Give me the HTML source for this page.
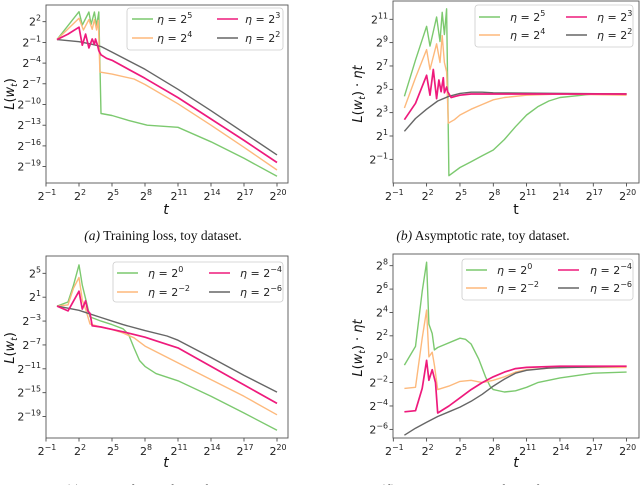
<!DOCTYPE html>
<html><head><meta charset="utf-8"><style>
html,body{margin:0;padding:0;background:#fff;}
svg{display:block;font-family:"DejaVu Sans","Liberation Sans",sans-serif;}
.cap{font-family:"Liberation Serif",serif;font-size:13.5px;fill:#111;}
</style></head><body>
<svg id="fig" width="640" height="485" viewBox="0 0 640 485"></svg>
<script>
// Series data: x = log2(t), y = log2(value)
const aGreenX=[0,2,2.3,2.9,3.1,3.4,3.6,3.8,4,5,6.5,8.2,11,14,17,20];
const aGreenY=[-0.6,3.45,1.5,3.4,1.6,3.4,1.4,3.4,-11.3,-11.6,-12.3,-13,-13.3,-15.4,-17.8,-20.4];
const aOrangeX=[0,2,2.4,2.9,3.2,3.4,3.6,3.75,3.9,5,7,8,11,14,17,20];
const aOrangeY=[-0.6,2.5,0.8,2.3,0.9,2.3,0.8,2.2,-5.3,-5.6,-6.3,-7.1,-9.9,-13,-16.2,-19.5];
const aPinkX=[0,1,2,2.3,2.6,2.9,3.2,3.4,3.5,3.7,3.8,4,4.5,5,8,11,14,17,20];
const aPinkY=[-0.6,0.2,1.2,-1.4,0.2,-1.8,-0.5,-1.3,-0.5,-1.5,-2.2,-2.8,-3.3,-3.6,-6.2,-9.0,-12.1,-15.2,-18.4];
const aGrayX=[0,2,3,4,5,8,11,14,17,20];
const aGrayY=[-0.6,-0.9,-1.2,-1.6,-2.4,-4.9,-7.8,-10.9,-14.1,-17.3];

const bGreenX=[0,1,2,2.3,2.9,3.2,3.4,3.6,3.8,4,5,6,7,8,9,10,11,12,13,14,16,17,20];
const bGreenY=[4.4,7.5,10.4,8.7,11.2,9.1,11.6,9.7,11.9,-2.4,-1.7,-1.2,-0.7,-0.2,0.7,1.8,2.8,3.5,4.0,4.3,4.5,4.6,4.6];
const bOrangeX=[0,1,2,2.3,2.9,3.2,3.4,3.6,3.8,3.95,4.5,5,6,7,8,9,11,14,20];
const bOrangeY=[3.4,6,8.4,6.7,8.9,7.3,9.6,7.3,6.5,2.1,2.4,2.8,3.3,3.7,4.1,4.3,4.5,4.6,4.5];
const bPinkX=[0,1,2,2.3,2.6,2.9,3.1,3.3,3.5,3.6,3.8,3.9,4.2,4.6,5,6,20];
const bPinkY=[2.4,3.8,6.2,4.5,6.7,4.2,5.8,4.8,6.0,4.7,5.2,4.8,4.3,4.4,4.5,4.6,4.6];
const bGrayX=[0,1,2,3,4,5,6,7,8,20];
const bGrayY=[1.4,2.5,3.3,4.0,4.4,4.65,4.75,4.75,4.7,4.6];

const cGreenX=[0,1,1.5,2,2.3,2.7,3,4,5,6,6.5,7,7.5,8,9,11,14,17,20];
const cGreenY=[-0.5,0.2,3,6.4,3,0,-2.3,-3,-3.6,-4.3,-5.2,-7.5,-9.6,-10.6,-11.8,-13,-15.6,-18.4,-21.3];
const cOrangeX=[0,1,1.5,2,2.3,2.6,3,4,5,6,7,8,11,14,17,20];
const cOrangeY=[-0.5,-0.3,2.5,4.3,0.5,-1,-3.5,-4,-4.4,-5,-5.8,-7.2,-10,-12.8,-15.6,-18.7];
const cPinkX=[0,1,2,2.3,2.6,2.8,3,3.2,4,5,6,8,9,11,14,17,20];
const cPinkY=[-0.5,-1.3,2.0,-1,0.4,-1.3,-1.7,-3.8,-4,-4.4,-4.8,-5.7,-6.3,-7.5,-10.6,-13.7,-16.8];
const cGrayX=[0,2,3,4,5,6,8,10,11,14,17,20];
const cGrayY=[-0.5,-1.2,-1.8,-2.4,-3,-3.6,-4.6,-5.5,-6.2,-9.1,-12.1,-14.9];

const dGreenX=[0,1,1.6,2,2.2,2.5,2.7,3,5,5.5,6,6.7,7.3,7.7,8,9,10,11,12,14,17,20];
const dGreenY=[-0.5,1.1,5.8,8.3,3,2.2,0.8,1.0,1.8,1.7,1.3,0,-1.5,-2.3,-2.6,-2.8,-2.7,-2.4,-2.0,-1.6,-1.2,-1.1];
const dOrangeX=[0,1,1.6,2,2.2,2.5,2.7,3,4,5,6,7,8,9,10,11,14,20];
const dOrangeY=[-2.5,-2.4,1.8,4.2,0.2,0.6,-0.5,-2.6,-2.3,-1.9,-1.8,-2,-1.8,-1.5,-1.1,-0.9,-0.7,-0.7];
const dPinkX=[0,1,1.6,2,2.2,2.5,2.8,3,4,5,6,7,8,9,10,11,14,20];
const dPinkY=[-4.5,-4.4,-2.5,-0.1,-1.8,-0.9,-2,-4.6,-4,-3.3,-2.6,-2,-1.5,-1.1,-0.8,-0.7,-0.6,-0.6];
const dGrayX=[0,1,2,3,4,5,6,7,8,9,10,11,13,15,20];
const dGrayY=[-6.5,-5.9,-5.4,-4.9,-4.5,-4.1,-3.6,-3,-2.3,-1.7,-1.2,-0.95,-0.75,-0.7,-0.6];

const xTicks=[-1,2,5,8,11,14,17,20];
const aYTicks=[2,-1,-4,-7,-10,-13,-16,-19];
const bYTicks=[11,9,7,5,3,1,-1];
const cYTicks=[5,1,-3,-7,-11,-15,-19];
const dYTicks=[8,6,4,2,0,-2,-4,-6];
const topLegend=["5","4","3","2"];
const botLegend=["0","−2","−4","−6"];

const C={green:'#7cc96f',orange:'#fdb97c',pink:'#ee1a7c',gray:'#666666'};
const NS='http://www.w3.org/2000/svg';
const fig=document.getElementById('fig');
function mk(tag,attrs,parent){const e=document.createElementNS(NS,tag);for(const k in attrs)e.setAttribute(k,attrs[k]);(parent||fig).appendChild(e);return e;}
function pow(parent,x,y,exp,anchor,size){
  const t=mk('text',{x:x,y:y,'text-anchor':anchor,'font-size':size,fill:'#222'},parent);
  const b=mk('tspan',{},t);b.textContent='2';
  const s=mk('tspan',{dy:-5,'font-size':size*0.72},t);s.textContent=String(exp).replace('-','−');
  return t;
}
const panels=[
 {id:'a',L:46,T:5,R:288,B:183,x0:46,xs:11,yr:21.7,yv:2,ys:6.9,yt:aYTicks,
  series:[[aGreenX,aGreenY,'green'],[aOrangeX,aOrangeY,'orange'],[aGrayX,aGrayY,'gray'],[aPinkX,aPinkY,'pink']],
  leg:{x:127,y:8,w:156,h:42,r1:19,r2:38,l1:132,t1:157,l2:217,t2:245,labels:topLegend},
  ylab:'L(w_t)',ylx:14,yly:94,xl:{x:166,y:214,it:true}},
 {id:'b',L:393,T:1,R:639,B:183,x0:393.3,xs:11.11,yr:19.3,yv:11,ys:11.67,yt:bYTicks,
  series:[[bGreenX,bGreenY,'green'],[bOrangeX,bOrangeY,'orange'],[bGrayX,bGrayY,'gray'],[bPinkX,bPinkY,'pink']],
  leg:{x:475,y:5,w:158,h:42,r1:17,r2:35,l1:479,t1:510,l2:566,t2:597,labels:topLegend},
  ylab:'rate',ylx:362,yly:94,xl:{x:516,y:214,it:false}},
 {id:'c',L:46,T:256,R:288,B:438,x0:46,xs:11,yr:273.3,yv:5,ys:5.97,yt:cYTicks,
  series:[[cGreenX,cGreenY,'green'],[cOrangeX,cOrangeY,'orange'],[cGrayX,cGrayY,'gray'],[cPinkX,cPinkY,'pink']],
  leg:{x:113,y:262,w:170,h:40,r1:273,r2:292,l1:117,t1:148,l2:209,t2:240,labels:botLegend},
  ylab:'L(w_t)',ylx:14,yly:348,xl:{x:166,y:467,it:true}},
 {id:'d',L:393,T:254,R:639,B:438,x0:393.3,xs:11.11,yr:265.7,yv:8,ys:11.69,yt:dYTicks,
  series:[[dGreenX,dGreenY,'green'],[dOrangeX,dOrangeY,'orange'],[dGrayX,dGrayY,'gray'],[dPinkX,dPinkY,'pink']],
  leg:{x:462,y:259,w:171,h:41,r1:270,r2:288,l1:466,t1:497,l2:558,t2:590,labels:botLegend},
  ylab:'rate',ylx:362,yly:348,xl:{x:516,y:467,it:true}}
];
panels.forEach(p=>{
  const g=mk('g',{});
  
  
  const X=v=>p.x0+(v+1)*p.xs, Y=v=>p.yr+(p.yv-v)*p.ys;
  const clipId='clip'+p.id;
  const cp=mk('clipPath',{id:clipId},g);mk('rect',{x:p.L,y:p.T,width:p.R-p.L,height:p.B-p.T},cp);
  xTicks.forEach(v=>{
    const tk=mk('line',{x1:X(v),x2:X(v),y1:p.B,y2:p.B+3.5,stroke:'#333','stroke-width':0.8},g);
    
    
    const lb=pow(g,X(v)+1,p.B+17,v,'middle',11);
    
    
  });
  p.yt.forEach(v=>{
    const tk=mk('line',{x1:p.L-3.5,x2:p.L,y1:Y(v),y2:Y(v),stroke:'#333','stroke-width':0.8},g);
    
    
    const lb=pow(g,p.L-5,Y(v)+4,v,'end',11);
    
    
  });
  const sg=mk('g',{'clip-path':'url(#'+clipId+')'},g);
  p.series.forEach(s=>{
    const d=s[0].map((x,i)=>(i?'L':'M')+X(x).toFixed(1)+','+Y(s[1][i]).toFixed(1)).join('');
    const pl=mk('path',{d:d,fill:'none',stroke:C[s[2]],'stroke-width':s[2]=='pink'?1.7:1.4,'stroke-linejoin':'round'},sg);
    
    
  });
  const fr=mk('rect',{x:p.L,y:p.T,width:p.R-p.L,height:p.B-p.T,fill:'none',stroke:'#555','stroke-width':0.9},g);
  
  
  const lg=mk('g',{},g);
  
  
  const q=p.leg;
  mk('rect',{x:q.x,y:q.y,width:q.w,height:q.h,rx:3,fill:'#fff','fill-opacity':0.85,stroke:'#ccc','stroke-width':0.8},lg);
  const ents=[[q.l1,q.t1,q.r1,'green',q.labels[0]],[q.l1,q.t1,q.r2,'orange',q.labels[1]],[q.l2,q.t2,q.r1,'pink',q.labels[2]],[q.l2,q.t2,q.r2,'gray',q.labels[3]]];
  ents.forEach(e=>{
    const eg=mk('g',{},lg);
    
    
    mk('line',{x1:e[0],x2:e[0]+21,y1:e[2],y2:e[2],stroke:C[e[3]],'stroke-width':1.6},eg);
    const t=mk('text',{x:e[1],y:e[2]+4,'font-size':11,fill:'#222'},eg);
    const a=mk('tspan',{'font-style':'italic'},t);a.textContent='η';
    const b=mk('tspan',{},t);b.textContent=' = 2';
    const c=mk('tspan',{dy:-5,'font-size':8},t);c.textContent=e[4];
  });
  const yl=mk('text',{x:0,y:0,transform:'translate('+p.ylx+','+p.yly+') rotate(-90)','text-anchor':'middle','font-size':13,fill:'#111'},g);
  
  
  let t1=mk('tspan',{'font-style':'italic'},yl);t1.textContent='L';
  t1=mk('tspan',{},yl);t1.textContent='(';
  t1=mk('tspan',{'font-style':'italic'},yl);t1.textContent='w';
  t1=mk('tspan',{'font-style':'italic','font-size':9,dy:3},yl);t1.textContent='t';
  t1=mk('tspan',{dy:-3},yl);t1.textContent=')';
  if(p.ylab=='rate'){t1=mk('tspan',{},yl);t1.textContent=' · ';t1=mk('tspan',{'font-style':'italic'},yl);t1.textContent='ηt';}
  const xl=mk('text',{x:p.xl.x,y:p.xl.y,'text-anchor':'middle','font-size':14,fill:'#111','font-style':p.xl.it?'italic':'normal'},g);
  
  
  xl.textContent='t';
});
function cap(x,y,lab,txt,name){
  const t=mk('text',{x:x,y:y,'text-anchor':'middle',class:'cap'});
  
  
  const a=mk('tspan',{'font-style':'italic'},t);a.textContent=lab;
  const b=mk('tspan',{},t);b.textContent=' '+txt;
}
cap(163,240,'(a)','Training loss, toy dataset.','caption-a');
cap(483,240,'(b)','Asymptotic rate, toy dataset.','caption-b');
cap(160,494,'(c)','Training loss, subset of MNIST.','caption-c');
cap(483,494,'(d)','Asymptotic rate, subset of MNIST.','caption-d');
</script>
</body></html>
